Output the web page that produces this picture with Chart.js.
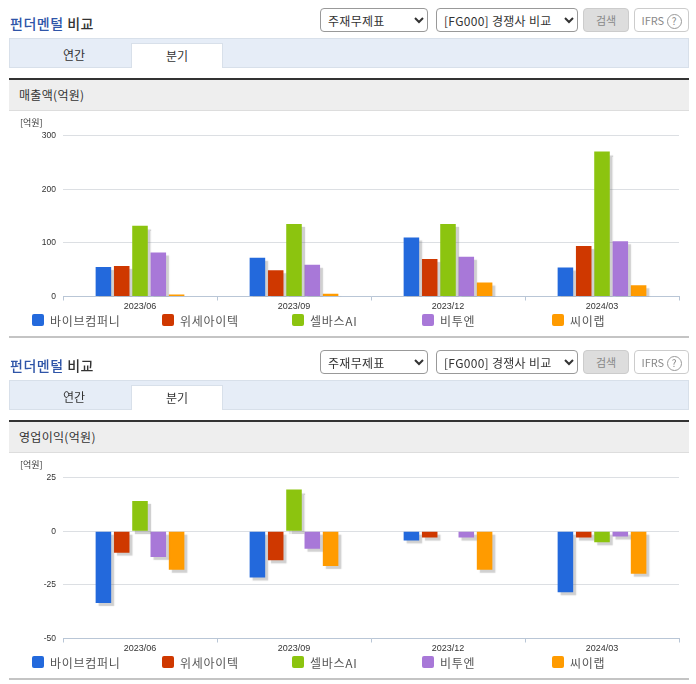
<!DOCTYPE html>
<html>

<head>
    <meta charset="utf-8">
    <script src="https://cdn.jsdelivr.net/npm/chart.js"></script>
    <style>
        html, body { margin: 0; padding: 0; background: #fff; overflow: hidden; }
        body { font-family: "Noto Sans CJK KR", sans-serif; color: #333; width: 696px; height: 684px; position: relative; }
        .panel { position: absolute; left: 0; width: 696px; height: 342px; }
        .panel > * { position: absolute; box-sizing: border-box; }
        .title { left: 10px; top: 12px; font-size: 14px; line-height: 22px; letter-spacing: 0.5px; font-weight: 500; }
        .title b { color: #2f55a8; font-weight: 500; }
        select { top: 8px; height: 24px; font: 12px "Noto Sans CJK KR", sans-serif; letter-spacing: 0.3px; color: #333; background: #fff; border: 1px solid #999; border-radius: 4px; padding-left: 3px; }
        .btn { top: 8px; height: 24px; border-radius: 4px; font-size: 11px; line-height: 22px; text-align: center; color: #888; border: 1px solid #ccc; }
        .btn em { display: inline-block; width: 13px; height: 13px; line-height: 12px; border: 1px solid #999; border-radius: 50%; font-style: normal; font-size: 10px; }
        .tabs { left: 9px; top: 38px; width: 680px; height: 30px; background: #e6edf7; border: 1px solid #d8e0ea; }
        .tab { top: 43px; width: 92px; height: 25px; font-size: 12px; line-height: 23px; text-align: center; }
        .tab.on { background: #fff; border: 1px solid #d8e0ea; border-bottom: 0; }
        .head { left: 9px; top: 78px; width: 680px; height: 33px; background: #eee; border-top: 2px solid #333; border-bottom: 1px solid #ddd; font-size: 12px; letter-spacing: 0.3px; line-height: 30px; padding-left: 10px; }
        .unit { left: 20px; top: 116px; font-size: 9px; line-height: 13px; }
        .wrap { left: 10px; top: 112px; width: 679px; height: 223px; }
        .legend { left: 0; top: 311px; width: 696px; height: 20px; }
        .legend span { position: absolute; top: 0; font-size: 12px; letter-spacing: 0.7px; line-height: 19px; color: #555; white-space: nowrap; }
        .legend i { position: absolute; top: 3px; width: 12px; height: 12px; border-radius: 2px; }
        .foot { left: 9px; top: 336px; width: 680px; height: 2px; background: #c4c4c4; }
    </style>
</head>

<body>
    <div id="page"></div>
    <script>
        const categories = ['2023/06', '2023/09', '2023/12', '2024/03'];
        const companies = ['바이브컴퍼니', '위세아이텍', '셀바스AI', '비투엔', '씨이랩'];
        const colors = ['#2369dc', '#cf3800', '#8cc40f', '#a878d8', '#ff9b00'];

        // 매출액(억원)
        const sales = [
            [55, 72, 110, 54],
            [57, 49, 70, 94],
            [132, 135, 135, 270],
            [82, 59, 74, 103],
            [3.5, 5, 26, 21]
        ];
        const salesTicks = { min: 0, max: 300, step: 100 };

        // 영업이익(억원)
        const profit = [
            [-33.5, -21.6, -4.3, -28.4],
            [-10, -13.6, -3, -3],
            [14, 19.4, 0, -5.2],
            [-12, -8.2, -3, -2.5],
            [-18, -16.2, -18, -19.8]
        ];
        const profitTicks = { min: -50, max: 25, step: 25 };

        // 막대 오른쪽 아래 회색 그림자
        const barShadow = {
            id: 'barShadow',
            beforeDatasetDraw(chart) {
                const c = chart.ctx;
                c.save();
                c.shadowColor = 'rgba(120,120,120,0.35)';
                c.shadowOffsetX = 3;
                c.shadowOffsetY = 3;
                c.shadowBlur = 1;
            },
            afterDatasetDraw(chart) {
                chart.ctx.restore();
            }
        };

        function makePanel(top, title, canvasId) {
            const el = document.createElement('div');
            el.className = 'panel';
            el.style.top = top + 'px';
            let legend = '';
            companies.forEach((name, i) => {
                legend += `<i style="left:${32 + i * 130}px;background:${colors[i]}"></i>` +
                    `<span style="left:${50 + i * 130}px">${name}</span>`;
            });
            el.innerHTML = `
                <div class="title"><b>펀더멘털</b> 비교</div>
                <select style="left:320px;width:108px"><option>주재무제표</option></select>
                <select style="left:436px;width:142px"><option>[FG000] 경쟁사 비교</option></select>
                <div class="btn" style="left:583px;width:46px;background:#ddd">검색</div>
                <div class="btn" style="left:634px;width:55px">IFRS <em>?</em></div>
                <div class="tabs"></div>
                <div class="tab" style="left:28px">연간</div>
                <div class="tab on" style="left:131px">분기</div>
                <div class="head">${title}</div>
                <div class="wrap"><canvas id="${canvasId}"></canvas></div>
                <div class="unit">[억원]</div>
                <div class="legend">${legend}</div>
                <div class="foot"></div>`;
            document.getElementById('page').appendChild(el);
        }

        function makeChart(canvasId, rows, range) {
            new Chart(document.getElementById(canvasId), {
                type: 'bar',
                data: {
                    labels: categories,
                    datasets: rows.map((row, i) => ({
                        label: companies[i],
                        data: row,
                        backgroundColor: colors[i],
                        barPercentage: 0.85,
                        categoryPercentage: 0.594
                    }))
                },
                options: {
                    responsive: false,
                    animation: false,
                    layout: { padding: { top: 23.5, right: 10, left: 0, bottom: 0 } },
                    plugins: { legend: { display: false }, tooltip: { enabled: false } },
                    scales: {
                        x: {
                            afterFit(axis) { axis.height = 38.5; },
                            grid: { drawOnChartArea: false, color: '#b9c6d6', tickLength: 4 },
                            border: { color: '#b9c6d6' },
                            ticks: { color: '#333', padding: 1, font: { size: 9, family: 'Liberation Sans' } }
                        },
                        y: {
                            min: range.min,
                            max: range.max,
                            afterFit(axis) { axis.width = 53; },
                            grid: { color: '#dcdfe3', drawTicks: false },
                            border: { display: false },
                            ticks: { stepSize: range.step, color: '#333', padding: 7, font: { size: 8.5, family: 'Liberation Sans' } }
                        }
                    }
                },
                plugins: [barShadow]
            });
        }

        makePanel(0, '매출액(억원)', 'salesChart');
        makePanel(342, '영업이익(억원)', 'profitChart');
        for (const id of ['salesChart', 'profitChart']) {
            const cv = document.getElementById(id);
            cv.width = 679;
            cv.height = 223;
        }
        makeChart('salesChart', sales, salesTicks);
        makeChart('profitChart', profit, profitTicks);
    </script>
</body>

</html>
